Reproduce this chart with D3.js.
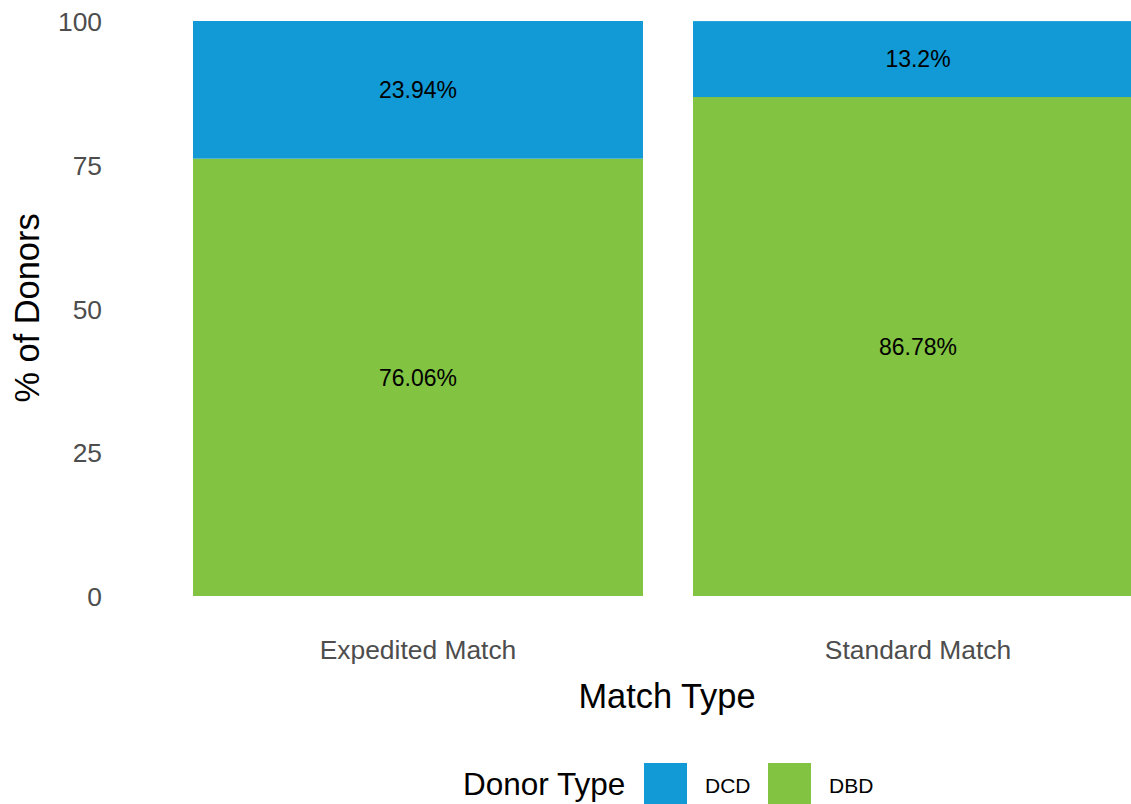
<!DOCTYPE html>
<html>
<head>
<meta charset="utf-8">
<script src="https://cdn.jsdelivr.net/npm/d3@7"></script>
<style>
  body { margin: 0; background: #fff; }
  text { font-family: "Liberation Sans", Arial, sans-serif; }
</style>
</head>
<body>
<svg width="1131" height="804"></svg>
<script>
  var matchTypes = ["Expedited Match", "Standard Match"],
      donorTypes = ["DCD", "DBD"],
      dcdValues = [23.94, 13.2],
      dbdValues = [76.06, 86.78],
      yTicks = [0, 25, 50, 75, 100];

  var colors = {DCD: "#119ad6", DBD: "#82c341"};

  var svg = d3.select("svg");

  var x = d3.scaleBand()
      .domain(matchTypes)
      .range([168, 1168])
      .paddingInner(0.1)
      .paddingOuter(0.05);

  var y = d3.scaleLinear().domain([0, 100]).range([596, 21]);

  // stack DBD at the bottom, DCD on top
  var rows = matchTypes.map(function(m, i) {
    return {match: m, DBD: dbdValues[i], DCD: dcdValues[i]};
  });
  var stack = d3.stack().keys(["DBD", "DCD"]);
  var series = stack(rows);

  var layer = svg.selectAll(".layer")
      .data(series)
      .enter().append("g")
      .attr("class", "layer")
      .attr("fill", function(d) { return colors[d.key]; });

  layer.selectAll("rect")
      .data(function(d) { return d; })
      .enter().append("rect")
      .attr("x", function(d) { return x(d.data.match); })
      .attr("width", x.bandwidth())
      .attr("y", function(d) { return y(d[1]); })
      .attr("height", function(d) { return y(d[0]) - y(d[1]); });

  layer.selectAll(".lbl")
      .data(function(d) { return d.map(function(p) { return {p: p, key: d.key}; }); })
      .enter().append("text")
      .attr("class", "lbl")
      .attr("x", function(d) { return x(d.p.data.match) + x.bandwidth() / 2; })
      .attr("y", function(d) { return y((d.p[0] + d.p[1]) / 2); })
      .attr("dy", "0.36em")
      .attr("text-anchor", "middle")
      .attr("fill", "#000")
      .style("font-size", "23px")
      .text(function(d) { return d.p.data[d.key] + "%"; });

  // y axis
  var yAxis = svg.append("g")
      .attr("transform", "translate(102,0)")
      .call(d3.axisLeft(y).tickValues(yTicks).tickSize(0).tickPadding(0));
  yAxis.select(".domain").remove();
  yAxis.selectAll("text")
      .attr("fill", "#4d4d4d")
      .attr("dy", "0.36em")
      .style("font-size", "26.4px");

  // x axis
  var xAxis = svg.append("g")
      .attr("transform", "translate(0,640)")
      .call(d3.axisBottom(x).tickSize(0).tickPadding(0));
  xAxis.select(".domain").remove();
  xAxis.selectAll("text")
      .attr("fill", "#4d4d4d")
      .attr("dy", "0.72em")
      .style("font-size", "26.4px");

  svg.append("text")
      .attr("x", 667)
      .attr("y", 708)
      .attr("text-anchor", "middle")
      .style("font-size", "34.4px")
      .text("Match Type");

  svg.append("text")
      .attr("transform", "translate(39,308) rotate(-90)")
      .attr("text-anchor", "middle")
      .style("font-size", "34.4px")
      .text("% of Donors");

  // legend
  var legend = svg.append("g");
  legend.append("text")
      .attr("x", 463)
      .attr("y", 795)
      .style("font-size", "31.5px")
      .text("Donor Type");

  var keyX = [644, 768];
  var key = legend.selectAll(".key")
      .data(donorTypes)
      .enter().append("g")
      .attr("class", "key")
      .attr("transform", function(d, i) { return "translate(" + keyX[i] + ",763)"; });
  key.append("rect")
      .attr("width", 43)
      .attr("height", 43)
      .attr("fill", function(d) { return colors[d]; });
  key.append("text")
      .attr("x", 61)
      .attr("y", 30)
      .style("font-size", "21px")
      .text(function(d) { return d; });
</script>
</body>
</html>
